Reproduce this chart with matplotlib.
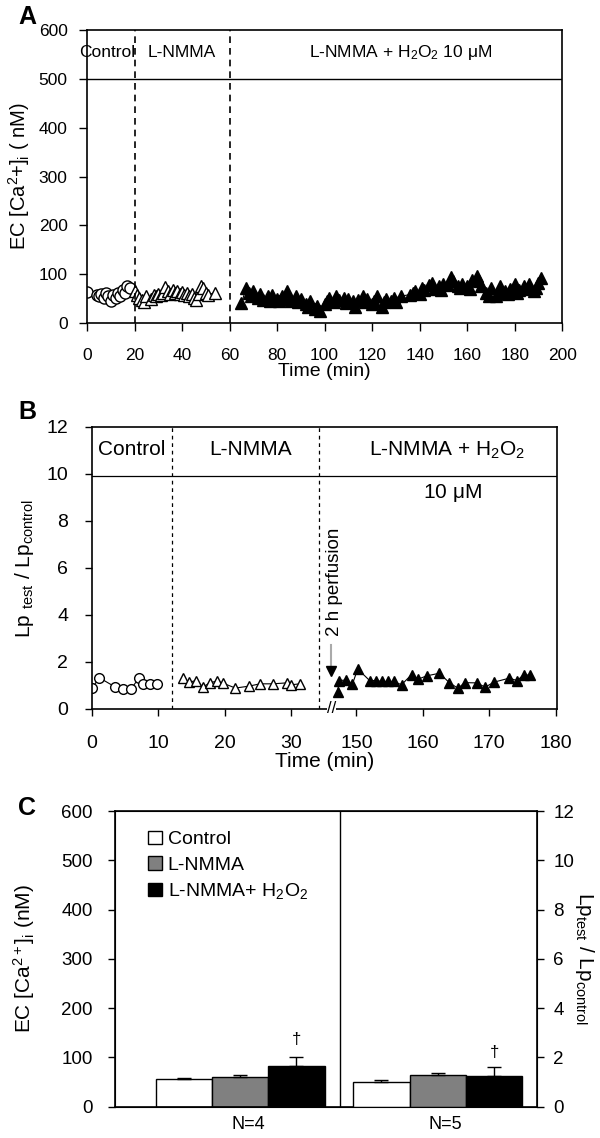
import matplotlib
matplotlib.use('Agg')
import matplotlib.pyplot as plt
import numpy as np
from matplotlib.patches import Patch

plt.rcParams['font.family'] = ['Liberation Sans', 'DejaVu Sans']
plt.rcParams['mathtext.fontset'] = 'custom'
plt.rcParams['mathtext.rm'] = 'Liberation Sans'
plt.rcParams['mathtext.it'] = 'Liberation Sans:italic'
plt.rcParams['mathtext.default'] = 'regular'

# ---- panel A: EC [Ca2+]i time course ----
ctrlA_t = [0, 4, 5, 6, 7, 8, 9, 10, 11, 12, 13, 14, 15, 16, 17, 18]
ctrlA_v = [63, 58, 55, 60, 52, 62, 55, 45, 58, 52, 62, 55, 68, 62, 76, 72]

nmmaA_t = [20, 21, 22, 23, 24, 25, 27, 28, 29, 30, 31, 32, 33, 34, 35, 36,
           37, 38, 39, 40, 41, 42, 43, 44, 45, 46, 47, 48, 49, 50, 51, 54]
nmmaA_v = [65, 58, 52, 48, 42, 55, 50, 58, 55, 60, 58, 62, 74, 65, 60, 68,
           62, 66, 60, 64, 58, 62, 55, 60, 52, 47, 60, 76, 72, 62, 58, 62]

h2o2A_t = [65, 67, 68, 69, 70, 72, 73, 74, 76, 77, 78, 80, 81, 82, 84, 85, 86,
           88, 89, 90, 92, 93, 94, 96, 97, 98, 100, 101, 102, 104, 105, 106,
           108, 109, 110, 112, 113, 114, 116, 117, 118, 120, 121, 122, 124,
           125, 126, 128, 129, 130, 132, 136, 137, 138, 140, 141, 142, 144,
           145, 146, 148, 149, 150, 152, 153, 154, 156, 157, 158, 160, 161,
           162, 164, 165, 166, 168, 169, 170, 172, 173, 174, 176, 177, 178,
           180, 181, 182, 184, 185, 186, 188, 189, 190, 191]
h2o2A_v = [40, 72, 62, 55, 65, 52, 60, 48, 55, 45, 58, 50, 44, 55, 66, 50, 45,
           55, 42, 50, 38, 32, 45, 28, 35, 24, 38, 45, 52, 42, 55, 48,
           52, 40, 50, 45, 32, 48, 55, 42, 50, 38, 45, 55, 33,
           42, 50, 45, 52, 42, 55, 58, 62, 65, 60, 72, 68, 78,
           82, 70, 75, 68, 80, 78, 95, 85, 75, 72, 80, 75, 70,
           88, 97, 85, 75, 62, 55, 72, 55, 62, 75, 65, 60, 70,
           80, 62, 68, 75, 70, 80, 65, 72, 82, 92]

# ---- panel B: Lp test / Lp control ----
ctrlB_t = [0, 1.1, 3.4, 4.6, 5.9, 7.1, 7.7, 8.8, 9.8]
ctrlB_v = [0.88, 1.33, 0.95, 0.86, 0.86, 1.33, 1.05, 1.05, 1.05]

nmmaB_t = [13.7, 14.6, 15.7, 16.7, 17.7, 18.8, 19.7, 21.6, 23.6, 25.3,
           27.2, 29.3, 30.0, 31.3]
nmmaB_v = [1.31, 1.14, 1.21, 0.93, 1.11, 1.19, 1.10, 0.89, 0.97, 1.07,
           1.07, 1.11, 1.03, 1.07]

h2o2B_t = [147.2, 147.4, 148.4, 149.4, 150.2, 152.0, 152.9, 153.9, 154.7,
           155.6, 156.8, 158.3, 159.3, 160.6, 162.5, 164.0, 165.3, 166.3,
           168.1, 169.4, 170.7, 173.0, 174.2, 175.2, 176.2]
h2o2B_v = [0.74, 1.21, 1.23, 1.05, 1.70, 1.21, 1.21, 1.17, 1.17, 1.17,
           1.03, 1.46, 1.27, 1.41, 1.52, 1.12, 0.88, 1.12, 1.11, 0.93,
           1.14, 1.31, 1.21, 1.46, 1.43]

break_offset = 110.2   # 150 min drawn where 39.8 would be
break_at = 36.1
arrow_t = 146.2
arrow_top = 2.74
arrow_tip = 1.62
b_xticks = [0, 10, 20, 30, 150, 160, 170, 180]

# ---- panel C: means ----
groups = ['N=4', 'N=5']
conditions = ['Control', 'L-NMMA', 'L-NMMA+ H$_2$O$_2$']
ca_mean = [57, 61, 83]          # nM, left axis
ca_err = [1, 4, 18]
lp_mean = [1.01, 1.30, 1.24]    # ratio, right axis
lp_err = [0.06, 0.08, 0.36]
ca_dagger = 137
lp_dagger = 2.2
bar_colors = ['white', '#808080', 'black']


def to_u(t):
    return [x if x < 100 else x - break_offset for x in np.atleast_1d(t)]


fig = plt.figure(figsize=(6, 11.38), dpi=100)

# ================= A =================
axA = fig.add_axes([0.145, 0.7162, 0.792, 0.2574])
axA.plot(ctrlA_t, ctrlA_v, '-o', color='k', lw=0.8, mfc='white', mec='k', ms=8, mew=1)
axA.plot(nmmaA_t, nmmaA_v, '-^', color='k', lw=0.8, mfc='white', mec='k', ms=8.5, mew=1)
axA.plot(h2o2A_t, h2o2A_v, '-^', color='k', lw=0.8, mfc='black', mec='k', ms=8.5, mew=1)
for xv in (20, 60):
    axA.axvline(xv, color='k', lw=1.2, ls=(0, (4, 3)))
axA.axhline(500, color='k', lw=1)
axA.set_xlim(0, 200)
axA.set_ylim(0, 600)
axA.set_xticks(range(0, 201, 20))
axA.set_yticks(range(0, 601, 100))
axA.tick_params(direction='out', length=6, width=1, labelsize=12.5)
axA.tick_params(axis='x', pad=12)
axA.tick_params(axis='y', pad=8)
for s in axA.spines.values():
    s.set_linewidth(1.2)
axA.set_xlabel('Time (min)', fontsize=14, labelpad=0)
axA.set_ylabel('EC [Ca$^{2}$+]$_{i}$ ( nM)', fontsize=14.5)
axA.yaxis.set_label_coords(-0.115, 0.5)
axA.text(8.7, 555, 'Control', fontsize=12.5, ha='center', va='center')
axA.text(40, 555, 'L-NMMA', fontsize=12.5, ha='center', va='center')
axA.text(132, 555, 'L-NMMA + H$_2$O$_2$ 10 $\\mu$M', fontsize=12.5, ha='center', va='center')
fig.text(0.045, 0.985, 'A', fontsize=18, fontweight='bold', ha='center', va='center')

# ================= B =================
axB = fig.add_axes([0.1533, 0.377, 0.775, 0.2478])
axB.plot(to_u(ctrlB_t), ctrlB_v, '-o', color='k', lw=0.8, mfc='white', mec='k', ms=7, mew=1)
axB.plot(to_u(nmmaB_t), nmmaB_v, '-^', color='k', lw=0.8, mfc='white', mec='k', ms=7.5, mew=1)
axB.plot(to_u(h2o2B_t), h2o2B_v, '-^', color='k', lw=0.8, mfc='black', mec='k', ms=7.5, mew=1)
for xv in (12, 34.1):
    axB.axvline(xv, color='k', lw=0.9, ls=(0, (3, 3)))
axB.axhline(9.9, color='k', lw=0.9)
au = to_u(arrow_t)[0]
axB.plot([au, au], [arrow_top, arrow_tip + 0.15], color='#aaaaaa', lw=1.5)
axB.plot([au], [arrow_tip], marker='v', color='k', ms=7.5)
axB.text(au + 0.5, 3.1, '2 h perfusion', rotation=90, fontsize=13.5,
         ha='center', va='bottom')
axB.text(to_u(break_at)[0], 0, '//', fontsize=12, ha='center', va='center',
         bbox=dict(facecolor='white', edgecolor='none', pad=0))
axB.set_xlim(0, 70)
axB.set_ylim(0, 12)
axB.set_xticks(to_u(b_xticks))
axB.set_xticklabels([str(t) for t in b_xticks])
axB.set_yticks(range(0, 13, 2))
axB.tick_params(direction='out', length=5, width=1, labelsize=14)
axB.tick_params(axis='x', pad=14)
axB.tick_params(axis='y', pad=12)
for s in axB.spines.values():
    s.set_linewidth(1.2)
axB.set_xlabel('Time (min)', fontsize=15, labelpad=0)
axB.set_ylabel('Lp $_{\\mathrm{test}}$ / Lp$_{\\mathrm{control}}$', fontsize=15)
axB.yaxis.set_label_coords(-0.12, 0.5)
axB.text(6.0, 11.05, 'Control', fontsize=15, ha='center', va='center')
axB.text(23.8, 11.05, 'L-NMMA', fontsize=15, ha='center', va='center')
axB.text(53.4, 11.0, 'L-NMMA + H$_2$O$_2$', fontsize=15, ha='center', va='center')
axB.text(54.2, 9.2, '10 $\\mu$M', fontsize=15, ha='center', va='center')
fig.text(0.045, 0.638, 'B', fontsize=18, fontweight='bold', ha='center', va='center')

# ================= C =================
axC = fig.add_axes([0.1917, 0.0275, 0.7025, 0.2598])
axC2 = axC.twinx()
w = 0.285
offs = [-w, 0, w]
handles = []
for i in range(3):
    axC.bar(0 + offs[i], ca_mean[i], w, color=bar_colors[i], edgecolor='k', lw=1)
    axC.errorbar(0 + offs[i], ca_mean[i], yerr=[[0], [ca_err[i]]], fmt='none',
                 ecolor='k', capsize=5, elinewidth=1, capthick=1)
    axC2.bar(1 + offs[i], lp_mean[i], w, color=bar_colors[i], edgecolor='k', lw=1)
    axC2.errorbar(1 + offs[i], lp_mean[i], yerr=[[0], [lp_err[i]]], fmt='none',
                  ecolor='k', capsize=5, elinewidth=1, capthick=1)
    handles.append(Patch(facecolor=bar_colors[i], edgecolor='k', lw=1, label=conditions[i]))
axC.text(offs[2], ca_dagger, '\u2020', fontsize=12, ha='center', va='center')
axC2.text(1 + offs[2], lp_dagger, '\u2020', fontsize=12, ha='center', va='center')
axC.axvline(0.506, color='k', lw=1)
axC.set_xlim(-0.633, 1.5)
axC.set_ylim(0, 600)
axC2.set_ylim(0, 12)
axC.set_yticks(range(0, 601, 100))
axC2.set_yticks(range(0, 13, 2))
axC.set_xticks([0.04, 1.04])
axC.set_xticklabels(groups)
axC.tick_params(axis='x', length=0, pad=7, labelsize=13)
axC.tick_params(axis='y', direction='out', length=5, width=1, labelsize=13.5, pad=11)
axC2.tick_params(axis='y', direction='out', length=5, width=1, labelsize=13.5, pad=7)
for s in axC.spines.values():
    s.set_linewidth(1.2)
axC.set_ylabel('EC [Ca$^{2+}$]$_{i}$ (nM)', fontsize=15)
axC.yaxis.set_label_coords(-0.185, 0.5)
axC2.set_ylabel('Lp$_{\\mathrm{test}}$ / Lp$_{\\mathrm{control}}$', fontsize=15,
                rotation=270, va='center')
axC2.yaxis.set_label_coords(1.115, 0.5)
axC.legend(handles=handles, loc='upper left', bbox_to_anchor=(0.06, 0.96),
           frameon=False, fontsize=14, handlelength=0.7, handleheight=0.7,
           handletextpad=0.3, labelspacing=0.4, borderaxespad=0)
fig.text(0.045, 0.29, 'C', fontsize=18, fontweight='bold', ha='center', va='center')

fig.savefig('out.png', dpi=100)
